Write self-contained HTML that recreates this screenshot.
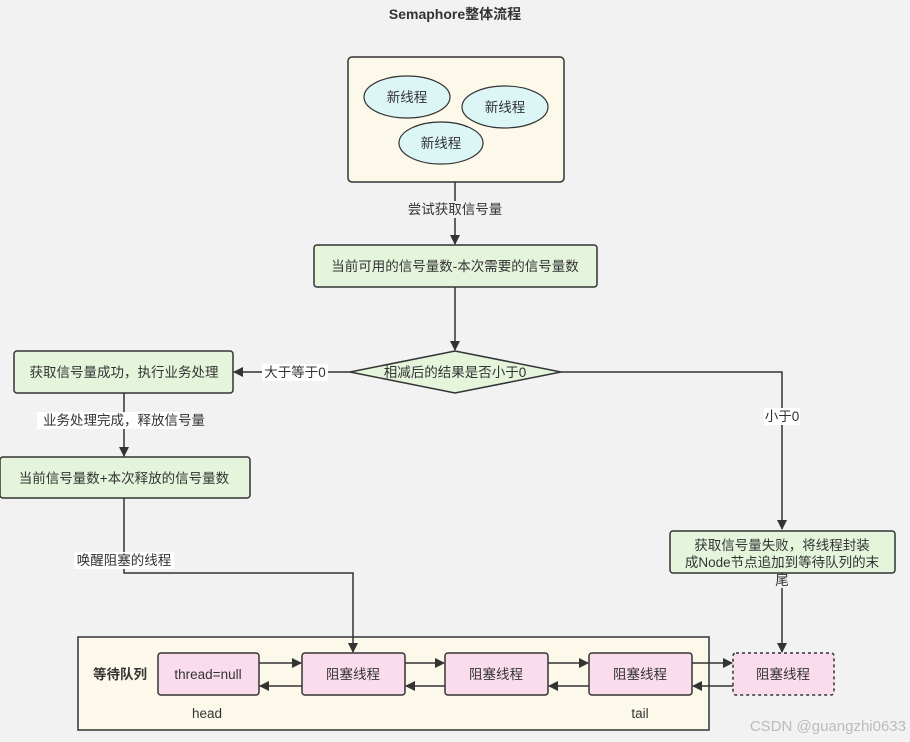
<!DOCTYPE html>
<html><head><meta charset="utf-8"><style>
html,body{margin:0;padding:0;background:#f2f2f2;}
svg{display:block;font-family:"Liberation Sans","Noto Sans CJK SC",sans-serif;}
text{font-size:13.5px;fill:#333;}
</style></head><body>
<svg width="910" height="742" viewBox="0 0 910 742" xmlns="http://www.w3.org/2000/svg">
<defs>
<marker id="a" markerWidth="10" markerHeight="10" refX="9" refY="5" orient="auto" markerUnits="userSpaceOnUse">
<path d="M0,0 L10,5 L0,10 z" fill="#333"/></marker>
</defs>
<rect width="910" height="742" fill="#f2f2f2"/>
<text x="455" y="19" text-anchor="middle" style="font-size:14px;font-weight:bold">Semaphore整体流程</text>

<rect x="348" y="57" width="216" height="125" rx="4" fill="#fcf8ea" stroke="#333" stroke-width="1.5"/>
<ellipse cx="407" cy="97" rx="43" ry="21" fill="#dcf5f5" stroke="#333" stroke-width="1.2"/>
<text x="407" y="102" text-anchor="middle">新线程</text>
<ellipse cx="505" cy="107" rx="43" ry="21" fill="#dcf5f5" stroke="#333" stroke-width="1.2"/>
<text x="505" y="112" text-anchor="middle">新线程</text>
<ellipse cx="441" cy="143" rx="42" ry="21" fill="#dcf5f5" stroke="#333" stroke-width="1.2"/>
<text x="441" y="148" text-anchor="middle">新线程</text>

<rect x="78" y="637" width="631" height="93" fill="#fcf8ea" stroke="#333" stroke-width="1.5"/>

<g stroke="#333" stroke-width="1.5" fill="none">
<line x1="455" y1="182" x2="455" y2="244" marker-end="url(#a)"/>
<line x1="455" y1="287" x2="455" y2="350" marker-end="url(#a)"/>
<line x1="350" y1="372" x2="234" y2="372" marker-end="url(#a)"/>
<line x1="124" y1="393" x2="124" y2="456" marker-end="url(#a)"/>
<polyline points="124,498 124,573 353,573 353,652" marker-end="url(#a)"/>
<polyline points="561,372 782,372 782,529" marker-end="url(#a)"/>
<line x1="782" y1="573" x2="782" y2="652" marker-end="url(#a)"/>
</g>
<rect x="404" y="201" width="102" height="17" fill="#f2f2f2"/>
<text x="455" y="214" text-anchor="middle">尝试获取信号量</text>

<rect x="314" y="245" width="283" height="42" rx="3" fill="#e5f5dc" stroke="#333" stroke-width="1.5"/>
<text x="455" y="271" text-anchor="middle">当前可用的信号量数-本次需要的信号量数</text>

<polygon points="350,372 455,351 561,372 455,393" fill="#e5f5dc" stroke="#333" stroke-width="1.5"/>
<text x="455" y="377" text-anchor="middle">相减后的结果是否小于0</text>

<rect x="262" y="364" width="66" height="17" fill="#fff"/>
<text x="295" y="377" text-anchor="middle">大于等于0</text>

<rect x="14" y="351" width="219" height="42" rx="3" fill="#e5f5dc" stroke="#333" stroke-width="1.5"/>
<text x="124" y="377" text-anchor="middle">获取信号量成功，执行业务处理</text>

<rect x="37" y="412" width="143" height="17" fill="#fff"/>
<text x="124" y="425" text-anchor="middle">业务处理完成，释放信号量</text>

<rect x="0" y="457" width="250" height="41" rx="3" fill="#e5f5dc" stroke="#333" stroke-width="1.5"/>
<text x="124" y="483" text-anchor="middle">当前信号量数+本次释放的信号量数</text>

<rect x="74" y="552" width="100" height="17" fill="#fff"/>
<text x="124" y="565" text-anchor="middle">唤醒阻塞的线程</text>

<rect x="764" y="408" width="36" height="17" fill="#fff"/>
<text x="782" y="421" text-anchor="middle">小于0</text>

<rect x="670" y="531" width="225" height="42" rx="3" fill="#e5f5dc" stroke="#333" stroke-width="1.5"/>
<text x="782" y="550" text-anchor="middle">获取信号量失败，将线程封装</text>
<text x="782" y="567" text-anchor="middle">成Node节点追加到等待队列的末</text>
<rect x="775" y="574" width="15" height="14" fill="#f2f2f2"/>
<text x="782" y="585" text-anchor="middle">尾</text>

<text x="120" y="679" text-anchor="middle" style="font-weight:bold">等待队列</text>

<g stroke="#333" stroke-width="1.5">
<rect x="158" y="653" width="101" height="42" rx="3" fill="#fadcec"/>
<rect x="302" y="653" width="103" height="42" rx="3" fill="#fadcec"/>
<rect x="445" y="653" width="103" height="42" rx="3" fill="#fadcec"/>
<rect x="589" y="653" width="103" height="42" rx="3" fill="#fadcec"/>
<rect x="733" y="653" width="101" height="42" rx="3" fill="#fadcec" stroke-dasharray="3,3"/>
</g>
<text x="208" y="679" text-anchor="middle">thread=null</text>
<text x="353" y="679" text-anchor="middle">阻塞线程</text>
<text x="496" y="679" text-anchor="middle">阻塞线程</text>
<text x="640" y="679" text-anchor="middle">阻塞线程</text>
<text x="783" y="679" text-anchor="middle">阻塞线程</text>

<g stroke="#333" stroke-width="1.5">
<line x1="259" y1="663" x2="301" y2="663" marker-end="url(#a)"/>
<line x1="302" y1="686" x2="260" y2="686" marker-end="url(#a)"/>
<line x1="405" y1="663" x2="444" y2="663" marker-end="url(#a)"/>
<line x1="445" y1="686" x2="406" y2="686" marker-end="url(#a)"/>
<line x1="548" y1="663" x2="588" y2="663" marker-end="url(#a)"/>
<line x1="589" y1="686" x2="549" y2="686" marker-end="url(#a)"/>
<line x1="692" y1="663" x2="732" y2="663" marker-end="url(#a)"/>
<line x1="733" y1="686" x2="693" y2="686" marker-end="url(#a)"/>
</g>
<text x="207" y="718" text-anchor="middle">head</text>
<text x="640" y="718" text-anchor="middle">tail</text>
<text x="906" y="731" text-anchor="end" style="font-size:15px;fill:#bbb">CSDN @guangzhi0633</text>
</svg>
</body></html>
